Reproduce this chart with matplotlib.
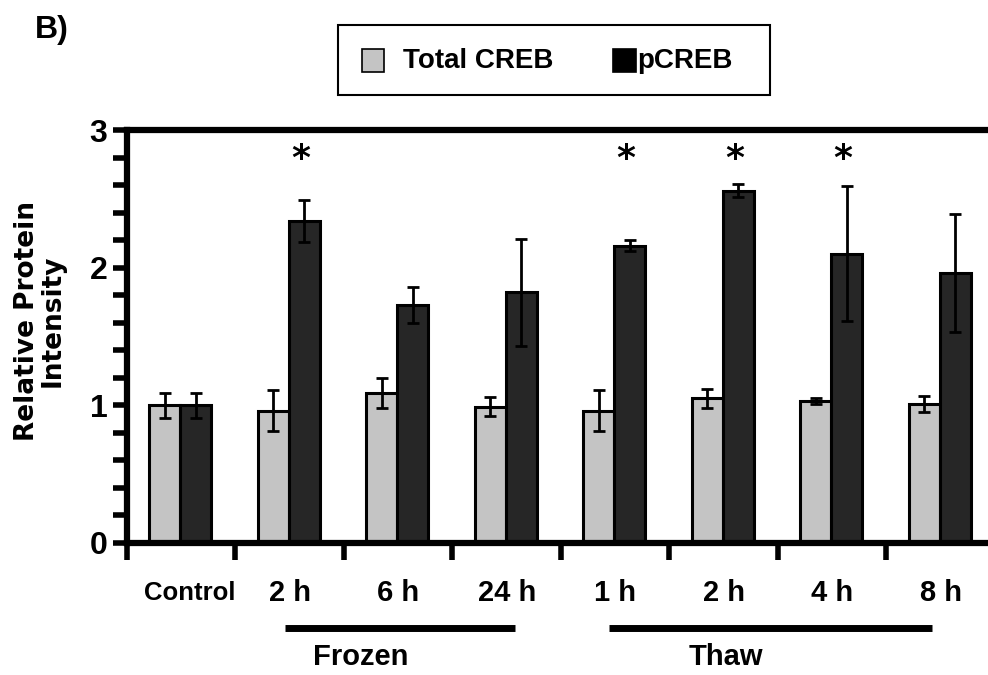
import numpy as np
import matplotlib.pyplot as plt
from matplotlib.patches import Rectangle
from matplotlib.transforms import blended_transform_factory

plt.rcParams["font.family"] = ["Liberation Sans", "DejaVu Sans"]
plt.rcParams["font.weight"] = "bold"

groups = ["Control", "2 h", "6 h", "24 h", "1 h", "2 h", "4 h", "8 h"]
total_creb = [1.00, 0.96, 1.09, 0.99, 0.96, 1.05, 1.03, 1.01]
total_err = [0.09, 0.15, 0.11, 0.07, 0.15, 0.07, 0.02, 0.06]
pcreb = [1.00, 2.34, 1.73, 1.82, 2.16, 2.56, 2.10, 1.96]
pcreb_err = [0.09, 0.15, 0.13, 0.39, 0.04, 0.05, 0.49, 0.43]
significant = [False, True, False, False, True, True, True, False]

light = "#c4c4c4"
dark = "#262626"

fig = plt.figure(figsize=(9.88, 6.75), dpi=100)
ax = fig.add_axes([0.1285, 0.1956, 0.8785, 0.6118])

x = np.arange(len(groups))
w = 0.285
ax.bar(x + 0.35, total_creb, w, color=light, edgecolor="black", linewidth=2.2,
       yerr=total_err, error_kw=dict(ecolor="black", elinewidth=2, capsize=4.5, capthick=2))
ax.bar(x + 0.635, pcreb, w, color=dark, edgecolor="black", linewidth=2.2,
       yerr=pcreb_err, error_kw=dict(ecolor="black", elinewidth=2, capsize=4.5, capthick=2))

# significance marks above the pCREB bars
for i, s in enumerate(significant):
    if s:
        ax.text(i + 0.6, 2.79, "*", ha="center", va="center", fontsize=26,
                fontweight="bold", family="DejaVu Sans")

ax.set_xlim(0, 8)
ax.set_ylim(0, 3)
ax.set_yticks([0, 1, 2, 3])
ax.set_yticks(np.arange(0, 3.01, 0.2), minor=True)
ax.tick_params(axis="y", which="both", direction="out", length=10, width=4,
               labelsize=23, pad=4)
ax.set_xticks(np.arange(0, 9))
ax.set_xticklabels([])
ax.tick_params(axis="x", which="major", direction="out", length=12, width=4)

for side in ["left", "top", "bottom", "right"]:
    ax.spines[side].set_linewidth(4.5)

ax.set_ylabel("Relative Protein\nIntensity", fontsize=19, fontweight="bold",
              family="DejaVu Sans", linespacing=0.95)
ax.yaxis.set_label_coords(-0.071, 0.537)

trans = blended_transform_factory(ax.transData, ax.transAxes)
for i, g in enumerate(groups):
    if g == "Control":
        ax.text(i + 0.58, -0.121, g, transform=trans, ha="center", va="center",
                fontsize=18.5)
    else:
        ax.text(i + 0.5, -0.121, g, transform=trans, ha="center", va="center",
                fontsize=21)

# bars under the treatment groups
ax.plot([1.456, 3.576], [-0.206, -0.206], color="black", lw=5,
        transform=trans, clip_on=False, solid_capstyle="butt")
ax.plot([4.442, 7.419], [-0.206, -0.206], color="black", lw=5,
        transform=trans, clip_on=False, solid_capstyle="butt")
ax.text(2.157, -0.276, "Frozen", transform=trans, ha="center", va="center",
        fontsize=21)
ax.text(5.52, -0.276, "Thaw", transform=trans, ha="center", va="center",
        fontsize=21)

# legend box
W, H = 988.0, 675.0
fig.add_artist(Rectangle((338 / W, 1 - 95 / H), 432 / W, 70 / H,
                         transform=fig.transFigure, facecolor="white",
                         edgecolor="black", linewidth=1.5))
fig.add_artist(Rectangle((362 / W, 1 - 72 / H), 22 / W, 23 / H,
                         transform=fig.transFigure, facecolor=light,
                         edgecolor="black", linewidth=1.2))
fig.add_artist(Rectangle((613 / W, 1 - 72 / H), 23 / W, 23 / H,
                         transform=fig.transFigure, facecolor="black",
                         edgecolor="black", linewidth=1.2))
fig.text(403 / W, 1 - 61 / H, "Total CREB", ha="left", va="center", fontsize=20)
fig.text(637 / W, 1 - 61 / H, "pCREB", ha="left", va="center", fontsize=20)

fig.text(35 / W, 1 - 30 / H, "B)", ha="left", va="center", fontsize=23)

fig.savefig("out.png", dpi=100)
